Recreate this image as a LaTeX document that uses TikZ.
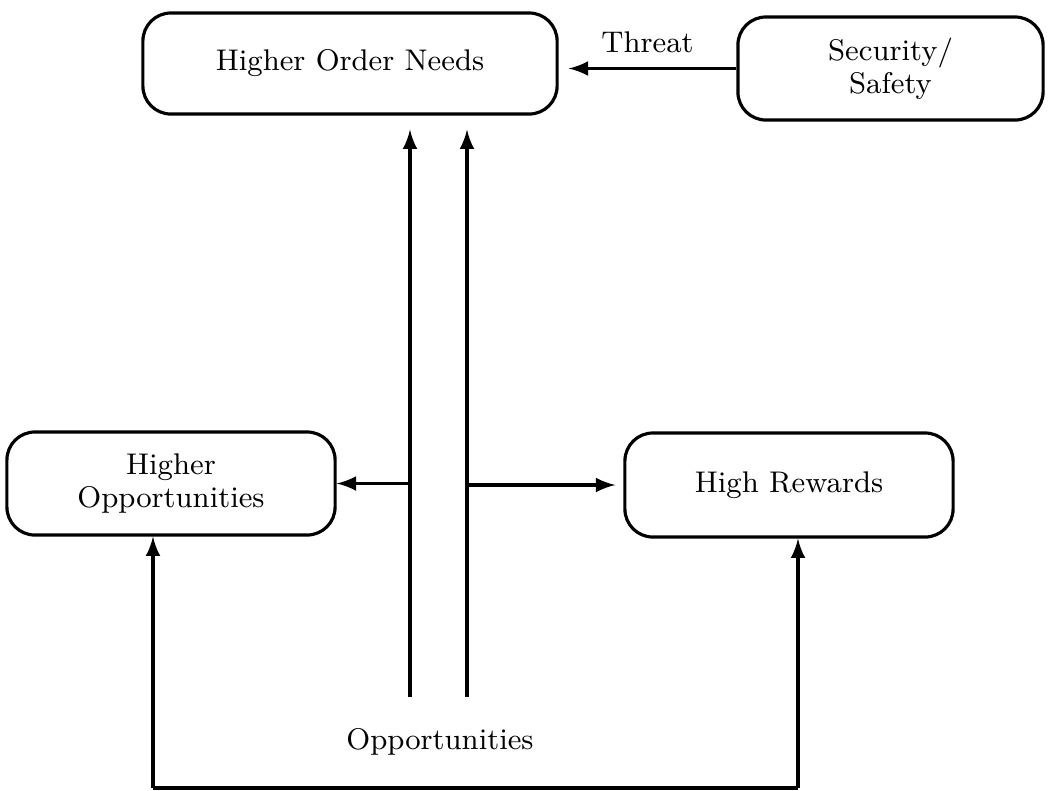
\documentclass[tikz,border=0pt]{standalone}
\usetikzlibrary{calc}
\begin{document}
\begin{tikzpicture}[x=0.01cm, y=-0.01cm,
		box/.style={draw=black, line width=0.9pt, rounded corners=0.28cm, align=center, inner sep=0pt, font=\fontsize{8.5}{9.4}\selectfont},
		link/.style={draw=black, line width=0.9pt, -latex},
		lbl/.style={font=\fontsize{8.5}{9.4}\selectfont}]
	\useasboundingbox (0,0) rectangle (1051,790);
	\node[box, minimum width=4.14cm, minimum height=1.01cm] (hon) at (350,63.5) {Higher Order Needs};
	\node[box, minimum width=3.05cm, minimum height=1.03cm] (sec) at (890.5,68.5) {Security/\\Safety};
	\node[box, minimum width=3.28cm, minimum height=1.03cm] (hop) at (171,483.5) {Higher\\Opportunities};
	\node[box, minimum width=3.28cm, minimum height=1.04cm] (hrw) at (789,485) {High Rewards};
	\node[lbl] (opp) at (440,742) {Opportunities};
	\coordinate (o1) at (410,697);
	\coordinate (o2) at (467,697);
	\coordinate (b1) at (153,788);
	\coordinate (b2) at (798,788);
	\draw[link, shorten >=0.1cm] (sec.west) -- (hon.east |- sec.west) node[lbl, midway, above=0.02cm] (threat) {Threat};
	\draw[link, shorten >=0.14cm] (o1) -- (o1 |- hon.south);
	\draw[link, shorten >=0.14cm] (o2) -- (o2 |- hon.south);
	\draw[link] (o1 |- hop.east) -- (hop.east);
	\draw[link, shorten >=0.08cm] (o2 |- hrw.west) -- (hrw.west);
	\draw[draw=black, line width=0.9pt] (b1) -- (b2);
	\draw[link] (b1) -- (b1 |- hop.south);
	\draw[link] (b2) -- (b2 |- hrw.south);
\end{tikzpicture}
\end{document}
